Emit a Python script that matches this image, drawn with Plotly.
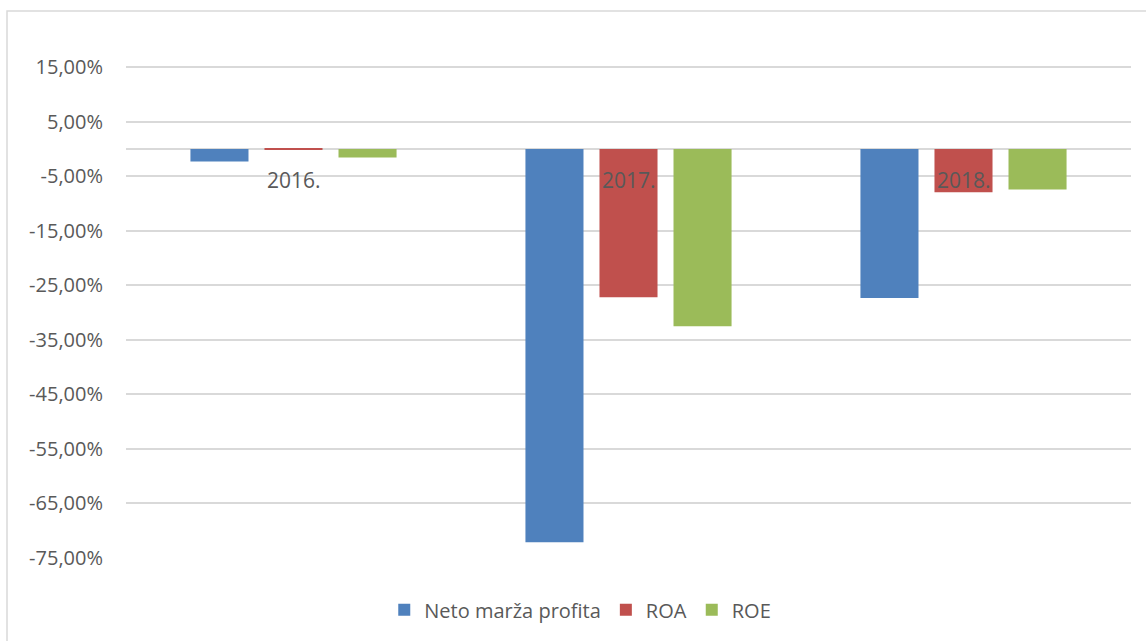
import plotly.graph_objects as go

categories = ["2016.", "2017.", "2018."]
series_names = ["Neto marža profita", "ROA", "ROE"]
neto_marza = [-0.023, -0.721, -0.273]
roa = [0.0015, -0.272, -0.079]
roe = [-0.0155, -0.325, -0.074]
colors = ["#4F81BD", "#C0504D", "#9BBB59"]
tick_vals = [0.15, 0.05, -0.05, -0.15, -0.25, -0.35, -0.45, -0.55, -0.65, -0.75]
tick_text = ["15,00%", "5,00%", "-5,00%", "-15,00%", "-25,00%", "-35,00%",
             "-45,00%", "-55,00%", "-65,00%", "-75,00%"]

FONT = "Open Sans"
TXT = "#595959"

fig = go.Figure()
for name, vals, col in zip(series_names, [neto_marza, roa, roe], colors):
    fig.add_trace(go.Bar(name=name, x=categories, y=vals, marker_color=col,
                         marker_line_width=0))

for i, c in enumerate(categories):
    fig.add_annotation(x=i, y=0, xref="x", yref="y", text=c, showarrow=False,
                       yanchor="middle", yshift=-31,
                       font=dict(family=FONT, size=21, color=TXT))

fig.add_shape(type="rect", xref="paper", yref="paper",
              x0=-0.1184, x1=1.03, y0=-0.2, y1=1.056,
              line=dict(color="#d9d9d9", width=1.5), fillcolor="rgba(0,0,0,0)",
              layer="below")

fig.update_layout(
    width=1146, height=641,
    margin=dict(l=126, r=15, t=40, b=83),
    paper_bgcolor="white", plot_bgcolor="white",
    barmode="group", bargap=0.337, bargroupgap=0.216,
    font=dict(family=FONT, color=TXT),
    showlegend=True,
    legend=dict(orientation="h", x=0.452, xanchor="center", y=-0.1, yanchor="middle",
                font=dict(family=FONT, size=20, color=TXT), traceorder="normal"),
    xaxis=dict(type="category", categoryorder="array", categoryarray=categories,
               range=[-0.5, len(categories) - 0.5],
               showticklabels=False, showgrid=False, showline=False,
               zeroline=False, ticks=""),
    yaxis=dict(range=[-0.75, 0.2], tickvals=tick_vals, ticktext=tick_text,
               showgrid=True, gridcolor="#d9d9d9", gridwidth=1.5,
               zeroline=True, zerolinecolor="#d9d9d9", zerolinewidth=1.5,
               showline=False, ticks="", ticklabelstandoff=22,
               tickfont=dict(family=FONT, size=20, color=TXT)),
)

fig.write_html("out.html", config={"displayModeBar": False},
               post_script="document.body.style.margin='0';document.body.style.overflow='hidden';")
